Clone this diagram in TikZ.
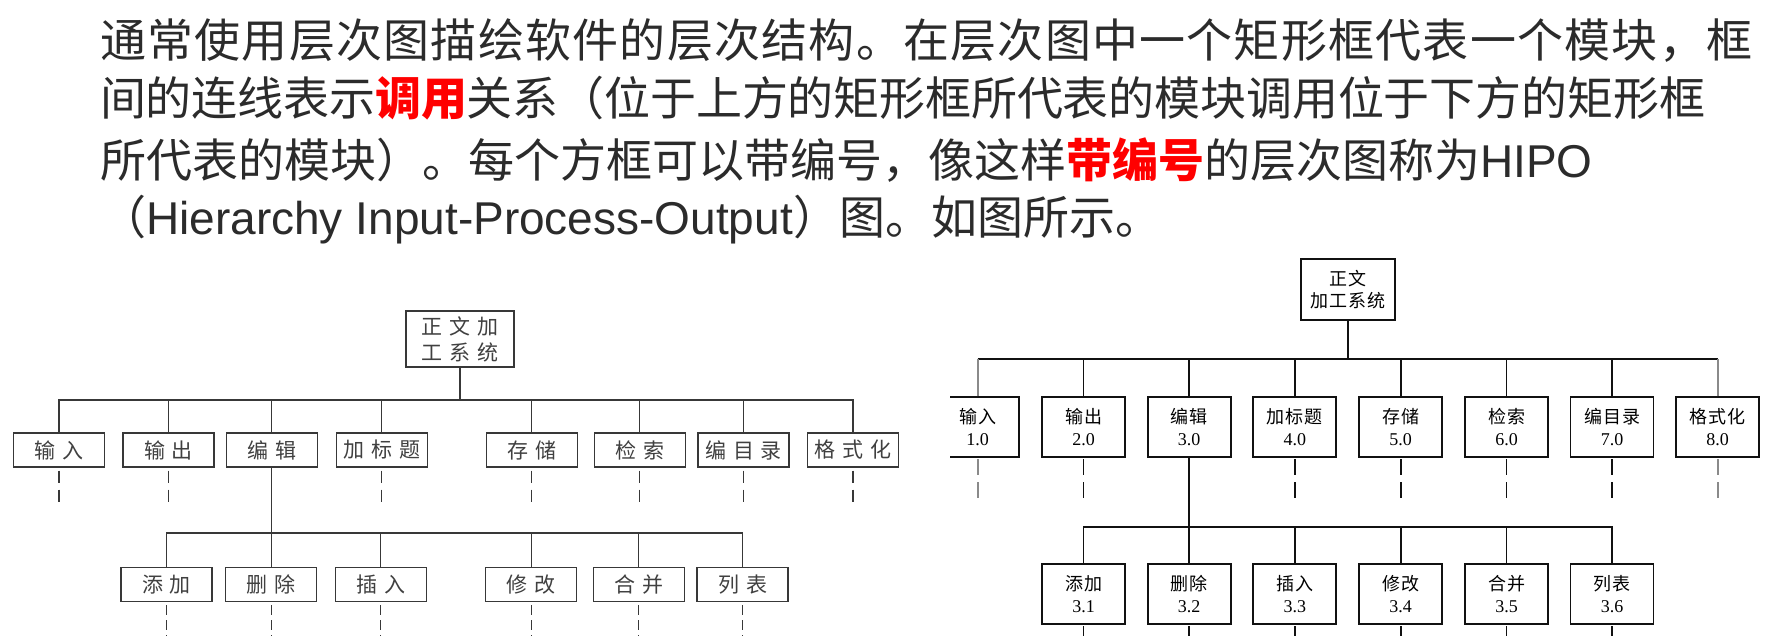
\documentclass[tikz,border=0pt]{standalone}
\usepackage{fontspec}
\setmainfont{Liberation Sans}
\newfontfamily\cjk{Noto Sans CJK SC}
\newfontfamily\numfont{Liberation Serif}

\definecolor{bodytext}{HTML}{2B2B2B}
\definecolor{hl}{HTML}{FF0000}
\definecolor{plainline}{HTML}{383838}
\definecolor{plaintext}{HTML}{404040}
\definecolor{hipoline}{HTML}{111111}
\definecolor{hipofaint}{HTML}{8A8A8A}

% set each character of a string in a box of fixed pitch
\ExplSyntaxOn
\NewDocumentCommand\pitched{mm}{\tl_map_inline:nn{#2}{\makebox[#1][c]{##1}}}
\ExplSyntaxOff

\tikzset{
  para/.style={anchor=base west, inner sep=0pt, text=bodytext,
    font=\cjk\fontsize{46}{46}\selectfont},
  plainbox/.style={draw=plainline, line width=1.3pt, minimum width=91pt,
    minimum height=34pt, inner sep=0pt, text=plaintext, align=center,
    font=\cjk\fontsize{21}{26}\selectfont},
  plainroot/.style={plainbox, minimum width=108pt, minimum height=56pt},
  plainlink/.style={draw=plainline, line width=1.3pt},
  plainstub/.style={plainlink, dash pattern=on 12pt off 7pt},
  plainstubb/.style={plainlink, dash pattern=on 10pt off 5pt},
  hipobox/.style={draw=hipoline, line width=1.8pt, minimum width=83pt,
    minimum height=60pt, inner sep=0pt, align=center, text=black,
    font=\cjk\fontsize{18}{22}\selectfont},
  hiporoot/.style={hipobox, minimum width=94pt, minimum height=61pt},
  hipolink/.style={draw=hipoline, line width=1.7pt},
  hipostub/.style={hipolink, dash pattern=on 16pt off 7pt},
}

\newcommand\hnum[2]{\pitched{19pt}{#1}\\{\numfont #2}}

\begin{document}
\begin{tikzpicture}[x=1pt, y=-1pt]
\useasboundingbox (0,0) rectangle (1774,636);
\fill[white] (0,0) rectangle (1774,636);

% ---------- paragraph ----------
\node[para] (l1) at (99.4,57.5) {\pitched{47.24pt}{通常使用层次图描绘软件的层次结构。在层次图中一个矩形框代表一个模块，框}};
\node[para] (l2) at (100,115.5) {\pitched{45.85pt}{间的连线表示}\textcolor{hl}{\bfseries\pitched{45.85pt}{调用}}\pitched{45.85pt}{关系（位于上方的矩形框所代表的模块调用位于下方的矩形框}};
\node[para] (l3) at (100,177.5) {所代表的模块）。每个方框可以带编号，像这样\textcolor{hl}{\bfseries 带编号}的层次图称为{\normalfont HIPO}};
\node[para] (l4) at (100,235) {（{\normalfont Hierarchy Input-Process-Output}）图。如图所示。};

% ---------- plain hierarchy chart ----------
\node[plainroot] (sys) at (460,339) {\pitched{28pt}{正文加}\\\pitched{28pt}{工系统}};

\node[plainbox] (in)    at (59,450)    {\pitched{28pt}{输入}};
\node[plainbox] (out)   at (168.5,450) {\pitched{28pt}{输出}};
\node[plainbox] (edit)  at (271.8,450) {\pitched{28pt}{编辑}};
\node[plainbox] (title) at (381.8,450) {\pitched{28pt}{加标题}};
\node[plainbox] (store) at (531.8,450) {\pitched{28pt}{存储}};
\node[plainbox] (find)  at (639.8,450) {\pitched{28pt}{检索}};
\node[plainbox] (toc)   at (743.5,450) {\pitched{28pt}{编目录}};
\node[plainbox] (fmt)   at (853,450)   {\pitched{28pt}{格式化}};

\node[plainbox] (add)   at (166.5,584.5) {\pitched{28pt}{添加}};
\node[plainbox] (del)   at (271.2,584.5) {\pitched{28pt}{删除}};
\node[plainbox] (ins)   at (380.8,584.5) {\pitched{28pt}{插入}};
\node[plainbox] (mod)   at (531.2,584.5) {\pitched{28pt}{修改}};
\node[plainbox] (merge) at (638.8,584.5) {\pitched{28pt}{合并}};
\node[plainbox] (list)  at (742.5,584.5) {\pitched{28pt}{列表}};

\coordinate (busA) at (0,400);
\coordinate (busB) at (0,533);
\coordinate (stubA) at (0,503);
\coordinate (stubB) at (0,636);

\draw[plainlink] (sys.south) -- (sys.south |- busA);
\draw[plainlink] (in.north) |- (fmt.north |- busA) -- (fmt.north);
\foreach \n in {out,edit,title,store,find,toc}
  \draw[plainlink] (\n.north) -- (\n.north |- busA);
\foreach \n in {in,out,title,store,find,toc,fmt}
  \draw[plainstub] ([yshift=-3pt]\n.south) -- (\n.south |- stubA);

\draw[plainlink] (edit.south) -- (edit.south |- del.north);
\draw[plainlink] (add.north) |- (list.north |- busB) -- (list.north);
\foreach \n in {ins,mod,merge}
  \draw[plainlink] (\n.north) -- (\n.north |- busB);
\foreach \n in {add,del,ins,mod,merge,list}
  \draw[plainstubb] ([yshift=-3pt]\n.south) -- (\n.south |- stubB);

% ---------- numbered (HIPO) chart ----------
\begin{scope}
\clip (950,225) rectangle (1774,636);
\node[hiporoot] (hsys) at (1348,289.5) {\pitched{19pt}{正文}\\\pitched{19pt}{加工系统}};

\node[hipobox] (hin)    at (977.7,427.2)  {\hnum{输入}{1.0}};
\node[hipobox] (hout)   at (1083.5,427.2) {\hnum{输出}{2.0}};
\node[hipobox] (hedit)  at (1189.2,427.2) {\hnum{编辑}{3.0}};
\node[hipobox] (htitle) at (1294.8,427.2) {\hnum{加标题}{4.0}};
\node[hipobox] (hstore) at (1400.7,427.2) {\hnum{存储}{5.0}};
\node[hipobox] (hfind)  at (1506.5,427.2) {\hnum{检索}{6.0}};
\node[hipobox] (htoc)   at (1612,427.2)   {\hnum{编目录}{7.0}};
\node[hipobox] (hfmt)   at (1717.7,427.2) {\hnum{格式化}{8.0}};

\node[hipobox] (hadd)   at (1083.5,594.3) {\hnum{添加}{3.1}};
\node[hipobox] (hdel)   at (1189.2,594.3) {\hnum{删除}{3.2}};
\node[hipobox] (hins)   at (1294.8,594.3) {\hnum{插入}{3.3}};
\node[hipobox] (hmod)   at (1400.7,594.3) {\hnum{修改}{3.4}};
\node[hipobox] (hmerge) at (1506.5,594.3) {\hnum{合并}{3.5}};
\node[hipobox] (hlist)  at (1612,594.3)   {\hnum{列表}{3.6}};

\coordinate (hbusA) at (0,359.3);
\coordinate (hbusB) at (0,527);
\coordinate (hstubA) at (0,500);
\coordinate (hstubB) at (0,636);

\draw[hipolink] (hsys.south) -- (hsys.south |- hbusA);
\draw[hipolink] (hin.north |- hbusA) -- (hfmt.north |- hbusA);
\draw[hipolink, draw=hipofaint] (hin.north) -- (hin.north |- hbusA);
\draw[hipolink, draw=hipofaint] (hfmt.north) -- (hfmt.north |- hbusA);
\foreach \n in {hout,hedit,htitle,hstore,hfind,htoc}
  \draw[hipolink] (\n.north) -- (\n.north |- hbusA);
\foreach \n in {hout,htitle,hstore,hfind,htoc}
  \draw[hipostub] ([yshift=-1pt]\n.south) -- (\n.south |- hstubA);
\foreach \n in {hin,hfmt}
  \draw[hipostub, draw=hipofaint] ([yshift=-1pt]\n.south) -- (\n.south |- hstubA);

\draw[hipolink] (hedit.south) -- (hedit.south |- hdel.north);
\draw[hipolink] (hadd.north) |- (hlist.north |- hbusB) -- (hlist.north);
\foreach \n in {hins,hmod,hmerge}
  \draw[hipolink] (\n.north) -- (\n.north |- hbusB);
\foreach \n in {hadd,hdel,hins,hmod,hmerge,hlist}
  \draw[hipostub] ([yshift=-1pt]\n.south) -- (\n.south |- hstubB);
\end{scope}
\end{tikzpicture}
\end{document}
